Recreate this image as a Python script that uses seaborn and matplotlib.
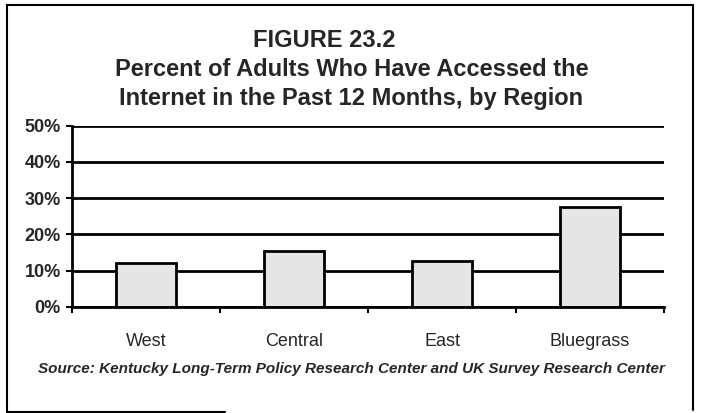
import matplotlib
matplotlib.use("Agg")
import matplotlib.pyplot as plt
import seaborn as sns
import pandas as pd
from matplotlib.lines import Line2D

# data
regions = ["West", "Central", "East", "Bluegrass"]
percent = [12, 15.5, 12.5, 27.5]
y_ticks = [0, 10, 20, 30, 40, 50]
y_tick_labels = ["0%", "10%", "20%", "30%", "40%", "50%"]

title_1 = "FIGURE 23.2"
title_2 = "Percent of Adults Who Have Accessed the"
title_3 = "Internet in the Past 12 Months, by Region"
source = "Source: Kentucky Long-Term Policy Research Center and UK Survey Research Center"

sns.set_style("white")
plt.rcParams["font.family"] = ["Liberation Sans", "DejaVu Sans"]

W, H = 702, 413
fig = plt.figure(figsize=(W / 100, H / 100), dpi=100)


def fx(px):
    return px / W


def fy(py):
    return 1 - py / H


ax = fig.add_axes([fx(72), fy(306.7), fx(664) - fx(72), fy(125.7) - fy(306.7)])

df = pd.DataFrame({"region": regions, "pct": percent})
sns.barplot(data=df, x="region", y="pct", color="#e6e6e6", saturation=1,
            width=0.41, edgecolor="black", linewidth=2, ax=ax)

ax.set_xlim(-0.5, 3.5)
ax.set_ylim(0, 50)
ax.set_xlabel("")
ax.set_ylabel("")

ax.set_yticks(y_ticks, y_tick_labels, fontsize=13, fontweight="bold")
ax.yaxis.grid(True, color="black", linewidth=2)
ax.set_axisbelow(True)
ax.tick_params(axis="y", length=4, width=1.5, color="black", direction="out",
               pad=4, left=True)

ax.set_xticks(range(len(regions)), regions, fontsize=13)
ax.tick_params(axis="x", which="major", length=0, pad=19)
ax.set_xticks([i - 0.5 for i in range(len(regions) + 1)], minor=True)
ax.tick_params(axis="x", which="minor", length=4, width=1.5, color="black",
               direction="out", bottom=True)

for side in ["top", "right"]:
    ax.spines[side].set_visible(False)
for side in ["left", "bottom"]:
    ax.spines[side].set_color("black")
    ax.spines[side].set_linewidth(2)

# titles
fig.text(fx(324), fy(47), title_1, ha="center", va="baseline",
         fontsize=17, fontweight="bold")
fig.text(fx(352), fy(76), title_2, ha="center", va="baseline",
         fontsize=17, fontweight="bold")
fig.text(fx(351), fy(105), title_3, ha="center", va="baseline",
         fontsize=17, fontweight="bold")
fig.text(fx(351), fy(373), source, ha="center", va="baseline",
         fontsize=11, fontstyle="italic", fontweight="bold")

# scanned frame around the figure
frame = [
    ((7, 693), (5, 5)),
    ((7, 7), (5, 412)),
    ((693, 693), (5, 410)),
    ((7, 225), (412, 412)),
]
for xs, ys in frame:
    fig.add_artist(Line2D([fx(x) for x in xs], [fy(y) for y in ys],
                          color="black", linewidth=1.5))

fig.savefig("out.png", dpi=100)
